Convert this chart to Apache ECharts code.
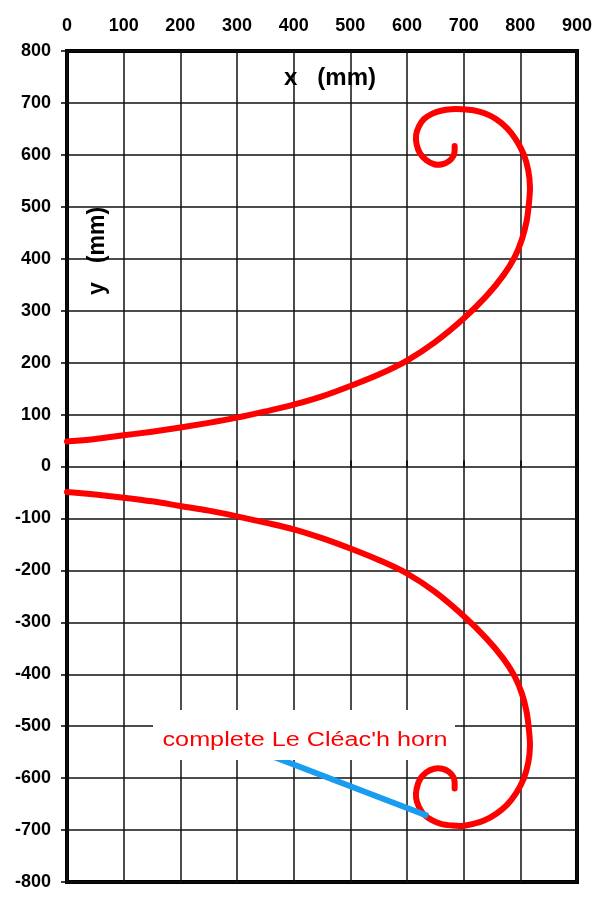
<!DOCTYPE html>
<html>
<head>
<meta charset="utf-8">
<script src="https://cdn.jsdelivr.net/npm/echarts@6/dist/echarts.min.js"></script>
<style>html,body{margin:0;padding:0;background:#fff;}#c{width:604px;height:903px;}</style>
</head>
<body>
<div id="c"></div>
<script>
// Axis ticks
var xTicks = [0, 100, 200, 300, 400, 500, 600, 700, 800, 900];
var yTicks = [-800, -700, -600, -500, -400, -300, -200, -100, 0, 100, 200, 300, 400, 500, 600, 700, 800];

// Upper half of the horn profile (x mm, y mm)
var upperX = [0, 50, 100, 150, 200, 250, 300, 350, 400, 450, 500, 550, 600, 650, 700, 740, 770, 790, 803, 811, 815, 817, 814, 806, 792, 776, 757, 737, 717, 697, 678, 660, 644, 630, 621, 616, 617, 623, 634, 648, 662, 674, 682, 684, 684];
var upperY = [48, 53, 60, 67, 75, 84, 94, 106, 119, 135, 155, 177, 204, 240, 285, 328, 368, 403, 438, 472, 505, 538, 570, 601, 630, 652, 669, 680, 686, 688, 688, 685, 679, 669, 655, 638, 620, 603, 590, 582, 582, 588, 598, 608, 617];

// Lower half of the horn profile
var lowerX = [0, 50, 100, 150, 200, 250, 300, 350, 400, 450, 500, 550, 600, 650, 700, 740, 770, 790, 803, 811, 815, 817, 814, 806, 792, 776, 757, 737, 717, 697, 678, 660, 644, 630, 621, 616, 617, 623, 634, 648, 662, 674, 682, 684, 684];
var lowerY = [-49, -54, -60, -67, -76, -85, -96, -108, -121, -138, -158, -180, -206, -242, -288, -331, -370, -404, -438, -472, -505, -538, -570, -601, -630, -652, -669, -681, -688, -692, -691, -688, -681, -670, -655, -638, -620, -602, -589, -582, -582, -588, -598, -608, -620];

// Annotation pointer line
var pointerX = [362, 637];
var pointerY = [-558, -673];

var labelText = "complete Le Cl\u00e9ac'h horn";
var xTitle = 'x   (mm)';
var yTitle = 'y   (mm)';

function pairs(xs, ys) {
  var out = [];
  for (var i = 0; i < xs.length; i++) out.push([xs[i], ys[i]]);
  return out;
}

// Smooth (Catmull-Rom) path through the data points, in pixel space given by the axes
function smoothRender(xs, ys) {
  return function (params, api) {
    if (params.dataIndex !== 0) return null;
    var p = [];
    for (var i = 0; i < xs.length; i++) p.push(api.coord([xs[i], ys[i]]));
    var d = 'M' + p[0][0] + ' ' + p[0][1];
    for (var j = 0; j < p.length - 1; j++) {
      var p0 = p[j - 1] || p[j], p1 = p[j], p2 = p[j + 1], p3 = p[j + 2] || p[j + 1];
      var c1x = p1[0] + (p2[0] - p0[0]) / 6, c1y = p1[1] + (p2[1] - p0[1]) / 6;
      var c2x = p2[0] - (p3[0] - p1[0]) / 6, c2y = p2[1] - (p3[1] - p1[1]) / 6;
      d += ' C' + c1x + ' ' + c1y + ' ' + c2x + ' ' + c2y + ' ' + p2[0] + ' ' + p2[1];
    }
    return {
      type: 'path',
      shape: {pathData: d},
      style: {fill: null, stroke: '#ff0000', lineWidth: 6, lineCap: 'round', lineJoin: 'round'}
    };
  };
}

var FONT = 'Liberation Sans, Arial, Helvetica, sans-serif';
var chart = echarts.init(document.getElementById('c'), null, {renderer: 'canvas'});

chart.setOption({
  backgroundColor: '#ffffff',
  animation: false,
  grid: {
    left: 67, right: 27, top: 51, bottom: 21,
    show: true, borderColor: '#000', borderWidth: 4, backgroundColor: 'transparent'
  },
  xAxis: {
    type: 'value', position: 'top',
    min: xTicks[0], max: xTicks[xTicks.length - 1], interval: 100,
    axisLine: {show: false},
    axisTick: {show: true, inside: false, length: 6, lineStyle: {color: '#000', width: 1.5}},
    axisLabel: {color: '#000', fontWeight: 'bold', fontSize: 18, fontFamily: FONT, margin: 16},
    splitLine: {show: true, lineStyle: {color: '#111', width: 1.5}}
  },
  yAxis: {
    type: 'value',
    min: yTicks[0], max: yTicks[yTicks.length - 1], interval: 100,
    axisLine: {show: false},
    axisTick: {show: true, inside: false, length: 6, lineStyle: {color: '#000', width: 1.5}},
    axisLabel: {color: '#000', fontWeight: 'bold', fontSize: 18, fontFamily: FONT, margin: 16},
    splitLine: {show: true, lineStyle: {color: '#111', width: 1.5}}
  },
  series: [
    {
      type: 'custom', data: pairs(upperX, upperY), encode: {x: 0, y: 1},
      renderItem: smoothRender(upperX, upperY), clip: false, z: 3
    },
    {
      type: 'custom', data: pairs(lowerX, lowerY), encode: {x: 0, y: 1},
      renderItem: smoothRender(lowerX, lowerY), clip: false, z: 3
    },
    {
      type: 'line', data: pairs(pointerX, pointerY), showSymbol: false,
      lineStyle: {color: '#1a9cf0', width: 6, cap: 'butt'}, clip: false, z: 4
    }
  ],
  graphic: [
    {type: 'rect', z: 100, shape: {x: 153, y: 710, width: 302, height: 50}, style: {fill: '#ffffff'}},
    {type: 'text', z: 101, x: 305, y: 740, scaleX: 1.26,
     style: {text: labelText, fill: '#ff0000', fontSize: 20, fontFamily: FONT, textAlign: 'center', textVerticalAlign: 'middle'}},
    {type: 'text', z: 101, x: 330, y: 78,
     style: {text: xTitle, fill: '#000', fontSize: 24, fontWeight: 'bold', fontFamily: FONT, textAlign: 'center', textVerticalAlign: 'middle'}},
    {type: 'text', z: 101, x: 98, y: 251, rotation: Math.PI / 2,
     style: {text: yTitle, fill: '#000', fontSize: 23, fontWeight: 'bold', fontFamily: FONT, textAlign: 'center', textVerticalAlign: 'middle'}}
  ]
});
</script>
</body>
</html>
